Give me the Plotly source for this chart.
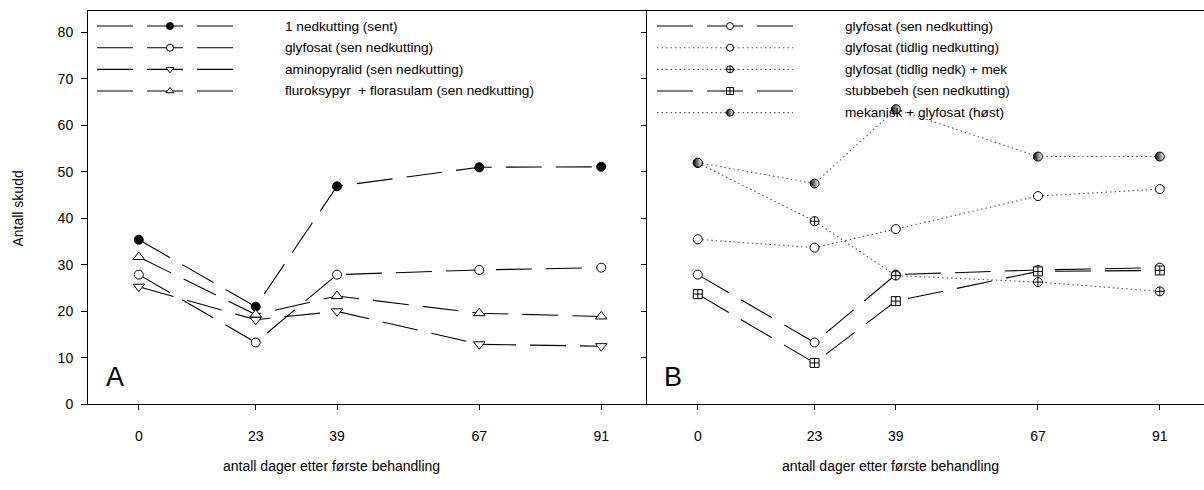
import plotly.graph_objects as go

# ---------------- data ----------------
days = [0, 23, 39, 67, 91]
y_ticks = [0, 10, 20, 30, 40, 50, 60, 70, 80]

# Panel A
a_names = ["1 nedkutting (sent)",
           "glyfosat (sen nedkutting)",
           "aminopyralid (sen nedkutting)",
           "fluroksypyr \u00a0+ florasulam (sen nedkutting)"]
a_sent = [35.4, 21.0, 46.9, 51.0, 51.1]
a_glyfosat = [27.9, 13.3, 27.9, 28.9, 29.4]
a_aminopyralid = [25.3, 18.2, 20.0, 12.9, 12.5]
a_fluroksypyr = [31.7, 19.3, 23.3, 19.6, 18.9]

# Panel B
b_names = ["glyfosat (sen nedkutting)",
           "glyfosat (tidlig nedkutting)",
           "glyfosat (tidlig nedk) + mek",
           "stubbebeh (sen nedkutting)",
           "mekanisk + glyfosat (høst)"]
b_glyf_sen = [27.9, 13.3, 27.9, 28.9, 29.4]
b_glyf_tidlig = [35.5, 33.7, 37.7, 44.8, 46.3]
b_glyf_tidlig_mek = [51.9, 39.4, 27.7, 26.3, 24.3]
b_stubbe = [23.7, 8.9, 22.2, 28.6, 28.8]
b_mek_host = [52.0, 47.5, 63.5, 53.3, 53.3]

x_title = "antall dager etter første behandling"
y_title = "Antall skudd"

# ---------------- styles ----------------
W, H = 1204, 490
FONT = "Arial, Liberation Sans, sans-serif"
DASH = "36px,14px"
DOT = "1.5px,3px"
TICK_FS = 14
LEG_FS = 13.6
TITLE_FS = 14


def mk(symbol, fill, size=9):
    return dict(symbol=symbol, size=size, color=fill, line=dict(color="black", width=1))


def half(size=9):
    return dict(symbol="circle", size=size, color="black",
                gradient=dict(type="horizontal", color="white"),
                line=dict(color="black", width=1))


a_series = [
    (a_names[0], a_sent, DASH, "black", lambda s=9: mk("circle", "black", s)),
    (a_names[1], a_glyfosat, DASH, "black", lambda s=9: mk("circle", "white", s)),
    (a_names[2], a_aminopyralid, DASH, "black", lambda s=10: mk("triangle-down", "white", s)),
    (a_names[3], a_fluroksypyr, DASH, "black", lambda s=10: mk("triangle-up", "white", s)),
]
b_series = [
    (b_names[0], b_glyf_sen, DASH, "black", lambda s=9: mk("circle", "white", s)),
    (b_names[1], b_glyf_tidlig, DOT, "#555", lambda s=9: mk("circle", "white", s)),
    (b_names[2], b_glyf_tidlig_mek, DOT, "#555", lambda s=9: mk("circle-cross", "white", s)),
    (b_names[3], b_stubbe, DASH, "black", lambda s=9: mk("square-cross", "white", s)),
    (b_names[4], b_mek_host, DOT, "#555", lambda s=9: half(s)),
]

fig = go.Figure()

for name, vals, dash, col, m in a_series:
    fig.add_trace(go.Scatter(x=days, y=vals, mode="lines+markers", name=name,
                             line=dict(color=col, width=1.1, dash=dash),
                             marker=m(), xaxis="x", yaxis="y", showlegend=False))
for name, vals, dash, col, m in b_series:
    fig.add_trace(go.Scatter(x=days, y=vals, mode="lines+markers", name=name,
                             line=dict(color=col, width=1.1, dash=dash),
                             marker=m(), xaxis="x2", yaxis="y2", showlegend=False))

# ---------------- custom legends (pixel overlay) ----------------
annotations = []
LEG_LEN = 136
ROW0, ROWSTEP = 26.5, 22


def add_legend(series, x0):
    for i, (name, vals, dash, col, m) in enumerate(series):
        yy = ROW0 + i * ROWSTEP
        fig.add_trace(go.Scatter(x=[x0, x0 + LEG_LEN], y=[yy, yy], mode="lines",
                                 line=dict(color=col, width=1.1, dash=dash),
                                 xaxis="x3", yaxis="y3", showlegend=False, hoverinfo="skip"))
        fig.add_trace(go.Scatter(x=[x0 + 73], y=[yy], mode="markers",
                                 marker=m(7), xaxis="x3", yaxis="y3",
                                 showlegend=False, hoverinfo="skip"))
        annotations.append(dict(x=x0 + 186, y=yy, xref="x3", yref="y3", text=name,
                                showarrow=False, xanchor="left", yanchor="middle",
                                font=dict(size=LEG_FS, family=FONT, color="black")))


add_legend(a_series, 97)
add_legend(b_series, 657)

# panel letters
annotations.append(dict(x=115, y=383, xref="x3", yref="y3", text="A", showarrow=False,
                        xanchor="center", yanchor="middle",
                        font=dict(size=27, family=FONT, color="black")))
annotations.append(dict(x=673, y=383, xref="x3", yref="y3", text="B", showarrow=False,
                        xanchor="center", yanchor="middle",
                        font=dict(size=27, family=FONT, color="black")))
# axis titles
for xr in ["x", "x2"]:
    annotations.append(dict(x=38, y=474, xref=xr, yref="y3", text=x_title, showarrow=False,
                            xanchor="center", yanchor="middle",
                            font=dict(size=TITLE_FS, family=FONT, color="black")))
annotations.append(dict(x=18, y=212, xref="x3", yref="y3", text=y_title, showarrow=False,
                        textangle=-90, xanchor="center", yanchor="middle",
                        font=dict(size=TITLE_FS, family=FONT, color="black")))

# ---------------- axes ----------------
xA0, xDiv, xR = 88, 647, 1204
yTop, yBot = 11, 411
y_dom = [1 - yBot / H, 1 - yTop / H]
y_rng = [0, 84.66]

common_x = dict(tickvals=days, ticks="outside", ticklen=5, tickwidth=1, tickcolor="black",
                showline=True, linecolor="black", linewidth=1, mirror=True,
                showgrid=False, zeroline=False, ticklabelstandoff=14,
                tickfont=dict(size=TICK_FS, family=FONT, color="black"), fixedrange=True)

fig.update_layout(
    width=W, height=H,
    margin=dict(l=0, r=0, t=0, b=0, pad=0),
    paper_bgcolor="white", plot_bgcolor="rgba(0,0,0,0)",
    showlegend=False,
    xaxis=dict(domain=[xA0 / W, xDiv / W], range=[-10, 100], anchor="y", **common_x),
    yaxis=dict(domain=y_dom, range=y_rng, anchor="x", tickvals=y_ticks, ticks="outside",
               ticklen=6, tickwidth=1, tickcolor="black", showline=True, linecolor="black",
               linewidth=1, mirror=False, showgrid=False, zeroline=False,
               ticklabelstandoff=5,
               tickfont=dict(size=TICK_FS, family=FONT, color="black")),
    xaxis2=dict(domain=[xDiv / W, 1], range=[-10, (xR - 697) / 5.085], anchor="y2", **common_x),
    yaxis2=dict(domain=y_dom, range=y_rng, anchor="x2", tickvals=y_ticks, ticks="outside",
                ticklen=5, tickwidth=1, tickcolor="black", showline=True, linecolor="black",
                linewidth=1, mirror=False, showgrid=False, zeroline=False,
                showticklabels=False),
    xaxis3=dict(domain=[0, 1], range=[0, W], visible=False, anchor="y3"),
    yaxis3=dict(domain=[0, 1], range=[H, 0], visible=False, anchor="x3"),
    annotations=annotations,
    font=dict(family=FONT, color="black"),
)

fig.write_html("out.html")
